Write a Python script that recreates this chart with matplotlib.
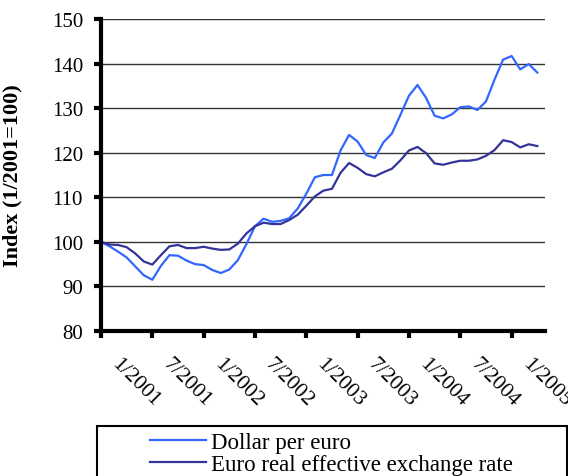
import matplotlib
matplotlib.use('Agg')
import matplotlib.pyplot as plt
import matplotlib.transforms as mtransforms
from matplotlib.patches import Rectangle
import numpy as np

plt.rcParams['font.family'] = ['Liberation Serif', 'DejaVu Serif']

# monthly, 1/2001 .. 4/2005 (index 1/2001 = 100)
months = np.arange(52)
dollar_per_euro = [100.0, 99.0, 97.8, 96.5, 94.5, 92.5, 91.5, 94.6, 97.0, 96.9,
                   95.8, 95.0, 94.8, 93.7, 93.0, 93.8, 95.9, 99.5, 103.5, 105.2,
                   104.5, 104.7, 105.3, 107.5, 110.8, 114.5, 115.0, 115.0, 120.5, 124.0,
                   122.5, 119.5, 118.8, 122.3, 124.3, 128.5, 132.8, 135.2, 132.3, 128.3,
                   127.7, 128.6, 130.2, 130.4, 129.6, 131.5, 136.4, 140.9, 141.7, 138.7,
                   139.9, 138.0]
euro_reer = [100.0, 99.4, 99.3, 98.8, 97.4, 95.6, 94.9, 97.0, 99.0, 99.3,
             98.6, 98.6, 98.9, 98.5, 98.2, 98.3, 99.6, 101.9, 103.5, 104.3,
             104.0, 104.0, 104.9, 106.1, 108.1, 110.2, 111.5, 111.9, 115.5, 117.7,
             116.6, 115.2, 114.7, 115.6, 116.4, 118.3, 120.5, 121.3, 119.9, 117.6,
             117.3, 117.8, 118.2, 118.2, 118.5, 119.3, 120.6, 122.8, 122.4, 121.2,
             121.9, 121.5]
tick_months = [0, 6, 12, 18, 24, 30, 36, 42, 48]
tick_labels = ['1/2001', '7/2001', '1/2002', '7/2002', '1/2003',
               '7/2003', '1/2004', '7/2004', '1/2005']

fig = plt.figure(figsize=(5.68, 4.77), dpi=100)
ax = fig.add_axes([0.1778, 0.304, 0.7817, 0.654])

ax.plot(months, dollar_per_euro, color='#3366FF', lw=1.6, label='Dollar per euro')
ax.plot(months, euro_reer, color='#333399', lw=1.6, label='Euro real effective exchange rate')

ax.set_ylim(80, 150)
ax.set_xlim(0, 51.9)
ax.set_yticks(np.arange(80, 151, 10))
ax.yaxis.grid(True, color='#333333', lw=1.0)
ax.set_axisbelow(True)

for s in ['top', 'right']:
    ax.spines[s].set_visible(False)
for s in ['left', 'bottom']:
    ax.spines[s].set_linewidth(3)
    ax.spines[s].set_color('black')

ax.tick_params(axis='y', length=5, width=3, labelsize=15, pad=8)
ax.tick_params(axis='x', length=5, width=3, pad=2)
ax.set_xticks(tick_months)
ax.set_xticklabels(tick_labels, rotation=-45, ha='left', va='top',
                   rotation_mode='anchor', fontsize=15.5)
offset = mtransforms.ScaledTranslation(20 / 100, -13 / 100, fig.dpi_scale_trans)
for lbl in ax.get_xticklabels():
    lbl.set_transform(lbl.get_transform() + offset)

ax.set_ylabel('Index (1/2001=100)', fontsize=16, fontweight='bold')
ax.yaxis.set_label_coords(-0.176, 0.5)

# legend box (runs off the bottom of the figure)
fig.patches.append(Rectangle((97 / 568, -0.05), 470 / 568, 1 - 427 / 477 + 0.05,
                             transform=fig.transFigure, fill=False,
                             edgecolor='black', lw=1.5))
fig.legend(loc='upper left', bbox_to_anchor=(150 / 568, 1 - 433 / 477),
           frameon=False, fontsize=16.5, handlelength=2.45, handletextpad=0.22,
           labelspacing=0.02, borderaxespad=0, borderpad=0)

fig.savefig('out.png', dpi=100)
